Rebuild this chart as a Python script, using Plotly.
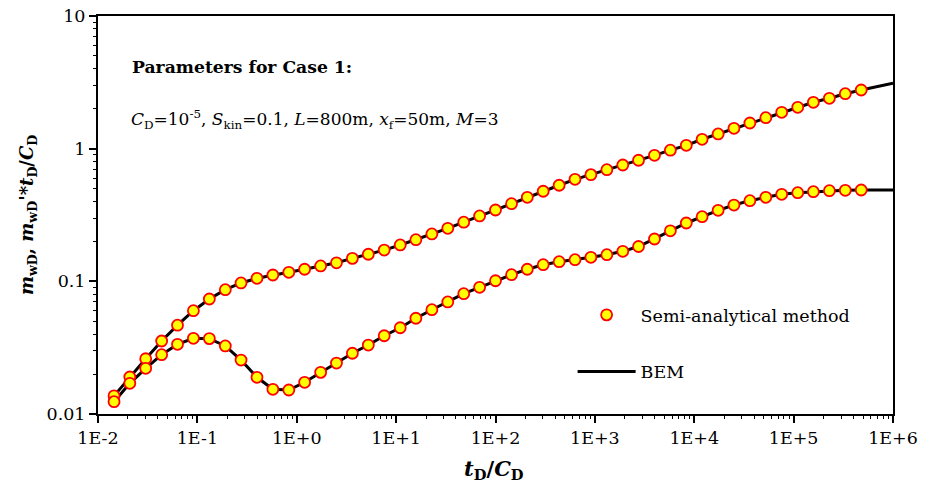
import plotly.graph_objects as go

# ---- data ----
t_cd = [0.0145, 0.0209, 0.0302, 0.0437, 0.0631, 0.0912, 0.132, 0.191, 0.275, 0.398,
        0.575, 0.832, 1.20, 1.74, 2.51, 3.63, 5.25, 7.59, 11.0, 15.8,
        22.9, 33.1, 47.9, 69.2, 100.0, 145.0, 209.0, 302.0, 437.0, 631.0,
        912.0, 1320.0, 1910.0, 2750.0, 3980.0, 5750.0, 8320.0, 12000.0, 17400.0, 25100.0,
        36300.0, 52500.0, 75900.0, 110000.0, 158000.0, 229000.0, 331000.0, 479000.0]

m_wd = [0.0137, 0.0190, 0.0261, 0.0355, 0.0467, 0.0601, 0.0736, 0.0865, 0.0972, 0.1054,
        0.1116, 0.117, 0.1233, 0.1306, 0.138, 0.149, 0.160, 0.172, 0.188, 0.206,
        0.2275, 0.251, 0.279, 0.311, 0.345, 0.385, 0.430, 0.4775, 0.530, 0.5875,
        0.637, 0.694, 0.753, 0.818, 0.891, 0.974, 1.060, 1.177, 1.291, 1.424,
        1.561, 1.712, 1.880, 2.051, 2.236, 2.397, 2.596, 2.768]

m_wd_deriv = [0.01239, 0.01704, 0.0221, 0.0280, 0.0335, 0.0372, 0.0370, 0.0326, 0.0255, 0.0189,
              0.01535, 0.01517, 0.01734, 0.0206, 0.0242, 0.0287, 0.0331, 0.0389, 0.0447, 0.0527,
              0.0611, 0.0699, 0.0807, 0.0902, 0.101, 0.1122, 0.1233, 0.1335, 0.1406, 0.1456,
              0.1517, 0.1588, 0.1684, 0.183, 0.2085, 0.2404, 0.2753, 0.307, 0.343, 0.376,
              0.4055, 0.430, 0.453, 0.4656, 0.474, 0.482, 0.4856, 0.488]

# BEM curves continue to the axis end
bem_t_end = [1.0e6]
bem_m_end = [3.11]
bem_d_end = [0.489]

x_tickvals = [1e-2, 1e-1, 1e0, 1e1, 1e2, 1e3, 1e4, 1e5, 1e6]
x_ticktext = ["1E-2", "1E-1", "1E+0", "1E+1", "1E+2", "1E+3", "1E+4", "1E+5", "1E+6"]
y_tickvals = [0.01, 0.1, 1, 10]
y_ticktext = ["0.01", "0.1", "1", "10"]
minor_mult = [2, 3, 4, 5, 6, 7, 8, 9]
x_minor = [m * d for d in x_tickvals[:-1] for m in minor_mult]
y_minor = [m * d for d in y_tickvals[:-1] for m in minor_mult]

FONT = "DejaVu Serif, Liberation Serif, serif"

fig = go.Figure()

bem_line = dict(color="black", width=3)
fig.add_trace(go.Scatter(x=t_cd + bem_t_end, y=m_wd + bem_m_end, mode="lines",
                         line=bem_line, name="BEM", legendgroup="bem",
                         legendrank=2, showlegend=True, hoverinfo="skip"))
fig.add_trace(go.Scatter(x=t_cd + bem_t_end, y=m_wd_deriv + bem_d_end, mode="lines",
                         line=bem_line, name="BEM", legendgroup="bem", showlegend=False,
                         hoverinfo="skip"))

mk = dict(size=11, color="#FFFF00", line=dict(color="#FF0000", width=1.8))
fig.add_trace(go.Scatter(x=t_cd, y=m_wd, mode="markers", marker=mk,
                         name="Semi-analytical method", legendgroup="semi",
                         legendrank=1, showlegend=True))
fig.add_trace(go.Scatter(x=t_cd, y=m_wd_deriv, mode="markers", marker=mk,
                         name="Semi-analytical method", legendgroup="semi",
                         showlegend=False))

# invisible trace bound to the minor-tick overlay axes
fig.add_trace(go.Scatter(x=t_cd, y=m_wd, mode="lines", line=dict(width=0, color="rgba(0,0,0,0)"),
                         xaxis="x2", yaxis="y2", showlegend=False, hoverinfo="skip"))

tickfont = dict(family=FONT, size=17.5, color="black")

fig.update_layout(
    template="none",
    font=dict(family=FONT, color="black"),
    xaxis=dict(type="log", range=[-2, 6], tickmode="array", tickvals=x_tickvals,
               ticktext=x_ticktext, showline=True, linecolor="black", linewidth=2,
               mirror=True, ticks="outside", ticklen=7, tickwidth=1.5, tickcolor="black",
               showgrid=False, zeroline=False, tickfont=tickfont, automargin=False),
    yaxis=dict(type="log", range=[-2, 1], tickmode="array", tickvals=y_tickvals,
               ticktext=y_ticktext, showline=True, linecolor="black", linewidth=2,
               mirror=True, ticks="outside", ticklen=7, tickwidth=1.5, tickcolor="black",
               showgrid=False, zeroline=False, tickfont=tickfont, automargin=False),
    xaxis2=dict(type="log", range=[-2, 6], overlaying="x", anchor="y", side="bottom",
                tickmode="array", tickvals=x_minor, showticklabels=False,
                ticks="outside", ticklen=4, tickwidth=1.2, tickcolor="black",
                showline=False, showgrid=False, zeroline=False, automargin=False),
    yaxis2=dict(type="log", range=[-2, 1], overlaying="y", anchor="x", side="left",
                tickmode="array", tickvals=y_minor, showticklabels=False,
                ticks="outside", ticklen=4, tickwidth=1.2, tickcolor="black",
                showline=False, showgrid=False, zeroline=False, automargin=False),
)

fig.add_annotation(xref="paper", yref="paper", x=0.498, y=-0.14,
                   xanchor="center", yanchor="middle", showarrow=False,
                   text="<b><i>t</i><sub>D</sub>/<i>C</i><sub>D</sub></b>",
                   font=dict(family=FONT, size=21, color="black"))
fig.add_annotation(xref="paper", yref="paper", x=-0.088, y=0.50,
                   xanchor="center", yanchor="middle", showarrow=False, textangle=-90,
                   text="<b><i>m</i><sub>wD</sub>, <i>m</i><sub>wD</sub><i>'*t</i><sub>D</sub>/<i>C</i><sub>D</sub></b>",
                   font=dict(family=FONT, size=18, color="black"))

fig.add_annotation(xref="paper", yref="paper", x=0.040, y=0.872,
                   xanchor="left", yanchor="middle", showarrow=False,
                   text="<b>Parameters for Case 1:</b>",
                   font=dict(family=FONT, size=17.2, color="black"))
fig.add_annotation(xref="paper", yref="paper", x=0.039, y=0.740,
                   xanchor="left", yanchor="middle", showarrow=False,
                   text="<i>C</i><sub>D</sub>=10<sup>-5</sup>, <i>S</i><sub>kin</sub>=0.1, <i>L</i>=800m, <i>x</i><sub>f</sub>=50m, <i>M</i>=3",
                   font=dict(family=FONT, size=17, color="black"))

fig.update_layout(
    width=930, height=490,
    margin=dict(l=98, r=37, t=16, b=76),
    paper_bgcolor="white", plot_bgcolor="white",
    showlegend=True,
    legend=dict(x=0.597, y=0.294, xanchor="left", yanchor="top",
                bgcolor="rgba(0,0,0,0)", traceorder="grouped", tracegroupgap=31,
                itemwidth=58,
                font=dict(family=FONT, size=17.5, color="black")),
)

fig.write_html("out.html")
